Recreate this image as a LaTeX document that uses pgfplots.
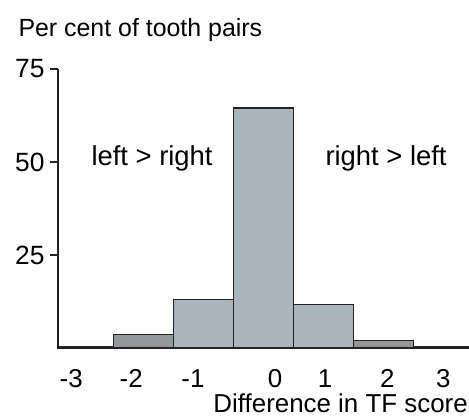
\documentclass[border=0pt]{standalone}
\usepackage{pgfplots}
\pgfplotsset{compat=1.18}
\usepackage{fontspec}
\setmainfont{Liberation Sans}
\definecolor{barfill}{RGB}{170,181,187}
\definecolor{barsmall}{RGB}{148,152,154}
\definecolor{ink}{RGB}{35,35,35}
\begin{document}
\begin{tikzpicture}[font=\fontsize{25}{30}\selectfont]
\begin{axis}[
  name=ax,
  scale only axis,
  width=411bp, height=279bp,
  xmin=-3.42, xmax=3.43, ymin=0, ymax=75,
  clip=false,
  axis y line*=left,
  axis x line*=bottom,
  x axis line style={draw=none},
  y axis line style={draw=ink, line width=1.3bp},
  ytick={25,50,75},
  tick align=outside,
  major tick length=8bp,
  ytick style={draw=ink, line width=1.1bp},
  xtick={-3.2,-2.2,-1.17,0.2,1.03,2.07,3.0},
  xticklabels={-3,-2,-1,0,1,2,3},
  xtick style={draw=none},
  xticklabel style={anchor=base, yshift=-31bp, font=\fontsize{26}{30}\selectfont},
  yticklabel style={anchor=east, xshift=-2bp, font=\fontsize{26.5}{30}\selectfont},
  /pgf/number format/assume math mode=true,
]
% tails (-3 and 3)
\addplot[ybar, bar width=0.92, fill=ink!80, draw=ink, line width=1.2bp] coordinates {(-2.96,0.4)};
\addplot[ybar, bar width=0.93, fill=ink!80, draw=ink, line width=1.2bp] coordinates {(2.965,0.4)};
% -2 and 2
\addplot[ybar, bar width=1, fill=barsmall, draw=ink, line width=1.2bp] coordinates {(-2,3.7) (2,2.0)};
% central bars
\addplot[ybar, bar width=1, fill=barfill, draw=ink, line width=1.2bp] coordinates {(-1,13.0) (0,64.5) (1,11.8)};
\end{axis}
\node[anchor=base west] at ([shift={(-43bp,311bp)}]ax.south west) {Per cent of tooth pairs};
\node[anchor=base west, font=\fontsize{27.5}{30}\selectfont] at ([shift={(30bp,182bp)}]ax.south west) {left > right};
\node[anchor=base west, font=\fontsize{27.5}{30}\selectfont] at ([shift={(264bp,182bp)}]ax.south west) {right > left};
\node[anchor=base east, inner sep=0pt, font=\fontsize{26}{30}\selectfont] at ([shift={(410bp,-64bp)}]ax.south west) {Difference in TF score};
\pgfresetboundingbox
\path[use as bounding box] ([shift={(-58bp,-70bp)}]ax.south west) rectangle ([shift={(411bp,348bp)}]ax.south west);
\end{tikzpicture}
\end{document}
